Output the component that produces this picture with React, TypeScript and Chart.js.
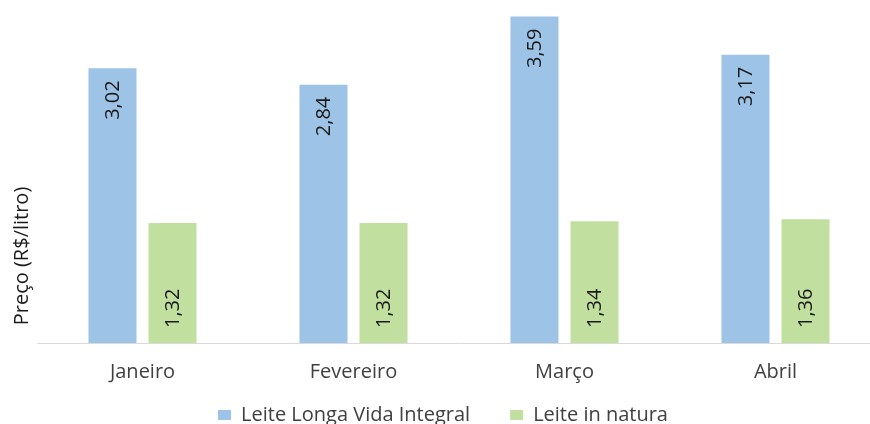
import React, { useEffect, useRef } from "react";
import { Chart, registerables } from "chart.js";

Chart.register(...registerables);

const categories = ["Janeiro", "Fevereiro", "Março", "Abril"];
const longaVida = [3.02, 2.84, 3.59, 3.17];
const inNatura = [1.32, 1.32, 1.34, 1.36];
const seriesNames = ["Leite Longa Vida Integral", "Leite in natura"];
const yTitle = "Preço (R$/litro)";

const FONT = "'Open Sans', 'Liberation Sans', sans-serif";
const BLUE = "rgb(157,195,230)";
const GREEN = "rgb(193,223,158)";

const fmt = (v: number) => v.toFixed(2).replace(".", ",");

const labelPlugin = {
  id: "barLabels",
  afterLayout(chart: any) {
    const lg = chart.legend;
    if (lg) {
      lg.top -= 23;
      lg.bottom -= 23;
      lg.left -= 16;
      lg.right -= 16;
    }
  },
  afterDatasetsDraw(chart: any) {
    const ctx = chart.ctx;
    ctx.save();
    ctx.font = `20px ${FONT}`;
    ctx.fillStyle = "#1a1a1a";
    ctx.textBaseline = "middle";
    chart.data.datasets.forEach((ds: any, di: number) => {
      const meta = chart.getDatasetMeta(di);
      meta.data.forEach((el: any, i: number) => {
        const txt = fmt(ds.data[i]);
        ctx.save();
        if (di === 0) {
          ctx.translate(el.x + 1, el.y + 12);
          ctx.rotate(-Math.PI / 2);
          ctx.textAlign = "right";
        } else {
          ctx.translate(el.x + 1, el.base - 15);
          ctx.rotate(-Math.PI / 2);
          ctx.textAlign = "left";
        }
        ctx.fillText(txt, 0, 0);
        ctx.restore();
      });
    });
    // y axis title
    ctx.font = `20px ${FONT}`;
    ctx.fillStyle = "#1a1a1a";
    ctx.translate(22, 256);
    ctx.rotate(-Math.PI / 2);
    ctx.textAlign = "center";
    ctx.fillText(yTitle, 0, 0);
    ctx.restore();
  },
};

export default function App() {
  const ref = useRef<HTMLCanvasElement | null>(null);
  useEffect(() => {
    if (!ref.current) return;
    const chart = new Chart(ref.current, {
      type: "bar",
      data: {
        labels: categories,
        datasets: [
          {
            label: seriesNames[0],
            data: longaVida,
            backgroundColor: BLUE,
            categoryPercentage: 0.569,
            barPercentage: 0.8,
          },
          {
            label: seriesNames[1],
            data: inNatura,
            backgroundColor: GREEN,
            categoryPercentage: 0.569,
            barPercentage: 0.8,
          },
        ],
      },
      options: {
        responsive: false,
        animation: false,
        layout: { padding: { left: 37, right: 9, top: 15.6, bottom: 0 } },
        plugins: {
          legend: {
            position: "bottom",
            labels: {
              font: { family: FONT, size: 20 },
              color: "#404040",
              boxWidth: 13,
              boxHeight: 10,
              padding: 40,
            },
          },
          tooltip: { enabled: false },
        },
        scales: {
          y: { display: false, min: 0, max: 3.6 },
          x: {
            grid: { display: false },
            border: { color: "#d9d9d9", width: 1 },
            ticks: {
              font: { family: FONT, size: 20 },
              color: "#404040",
              padding: 9,
            },
            afterFit(scale: any) {
              scale.height = 45;
            },
          },
        },
      },
      plugins: [labelPlugin],
    });
    return () => chart.destroy();
  }, []);
  return (
    <div style={{ position: "fixed", left: 0, top: 0, width: 870, height: 424, overflow: "hidden", background: "#fff" }}>
      <canvas ref={ref} width={890} height={458} style={{ display: "block" }} />
    </div>
  );
}
